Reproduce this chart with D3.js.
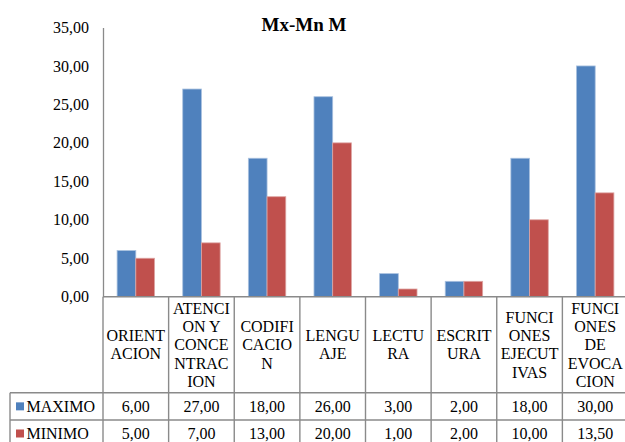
<!DOCTYPE html>
<html><head><meta charset="utf-8">
<script src="https://cdn.jsdelivr.net/npm/d3@7"></script>
<style>
@font-face{font-family:"ChartSerif";src:local("Liberation Serif"),local("LiberationSerif"),local("Tinos"),local("Times New Roman");font-weight:400;}
@font-face{font-family:"ChartSerif";src:local("Liberation Serif Bold"),local("LiberationSerif-Bold"),local("Tinos Bold"),local("Times New Roman Bold");font-weight:700;}
</style>
</head><body style="margin:0">
<svg id="c" width="625" height="442"></svg>
<script>
const categories = ["ORIENTACION","ATENCION Y CONCENTRACION","CODIFICACION","LENGUAJE","LECTURA","ESCRITURA","FUNCIONES EJECUTIVAS","FUNCIONES DE EVOCACION"];
const categoryLines = [["ORIENT","ACION"],["ATENCI","ON Y","CONCE","NTRAC","ION"],["CODIFI","CACIO","N"],["LENGU","AJE"],["LECTU","RA"],["ESCRIT","URA"],["FUNCI","ONES","EJECUT","IVAS"],["FUNCI","ONES","DE","EVOCA","CION"]];
const seriesNames = ["MAXIMO","MINIMO"];
const maximo = [6,27,18,26,3,2,18,30];
const minimo = [5,7,13,20,1,2,10,13.5];
const yTickValues = [0,5,10,15,20,25,30,35];
const title = "Mx-Mn M";
const colors = ["#4F81BD","#C0504D"];
const edge = ["#a9c1df","#dda4a2"];

const svg = d3.select("#c");
const FFL = '"Times New Roman", "Liberation Serif", "ChartSerif", "Tinos"';
const pLeft = 103, pRight = 628, pTop = 27.5, pBottom = 296.7;
const gridCol = "#8a8a8a";

const x0 = d3.scaleBand().domain(categories).range([pLeft, pRight]).padding(0);
const x1 = d3.scaleBand().domain(seriesNames).range([0, x0.bandwidth()]).paddingInner(0).paddingOuter(0.754);
const y = d3.scaleLinear().domain([0,35]).range([pBottom, pTop]);
const fmt = v => d3.format(".2f")(v).replace(".", ",");

function txt(sel){ return sel.style("font-family", FFL); }

// bars
const data = [maximo, minimo];
seriesNames.forEach((s,si)=>{
  svg.append("g").selectAll("rect").data(categories).join("rect")
    .attr("x",(c)=>x0(c)+x1(s))
    .attr("y",(c,i)=>y(data[si][i]))
    .attr("width",x1.bandwidth())
    .attr("height",(c,i)=>y(0)-y(data[si][i]))
    .attr("fill",colors[si])
    .attr("stroke",edge[si]).attr("stroke-width",0.8);
});

// y axis
const yAxis = d3.axisLeft(y).tickValues(yTickValues).tickSize(0).tickPadding(14).tickFormat(fmt);
const ga = svg.append("g").attr("transform",`translate(${pLeft},0)`).call(yAxis);
ga.attr("font-family", null).attr("font-size", null);
ga.select(".domain").attr("stroke",gridCol).attr("stroke-width",1.3);
txt(ga.selectAll("text")).attr("font-size",16).attr("fill","#000");

// table
const rowTop = pBottom, hdrBottom = 392.7, row1Bottom = 420, row2Bottom = 447;
const lines = svg.append("g").attr("stroke",gridCol).attr("stroke-width",1.4).attr("fill","none");
lines.append("line").attr("x1",pLeft).attr("x2",pRight).attr("y1",rowTop).attr("y2",rowTop);
[hdrBottom,row1Bottom,row2Bottom].forEach(yy=>{
  lines.append("line").attr("x1",10).attr("x2",pRight).attr("y1",yy).attr("y2",yy);
});
lines.append("line").attr("x1",10).attr("x2",10).attr("y1",hdrBottom).attr("y2",row2Bottom);
const bounds = categories.map(c=>x0(c)).concat([pRight]);
bounds.forEach(bx=>{
  lines.append("line").attr("x1",bx).attr("x2",bx).attr("y1",rowTop).attr("y2",row2Bottom);
});

// header labels
const lh = 18.3;
const hdrMid = (rowTop+hdrBottom)/2;
categories.forEach((c,i)=>{
  const ls = categoryLines[i];
  ls.forEach((l,j)=>{
    txt(svg.append("text")).attr("font-size",16)
     .attr("text-anchor","middle").attr("fill","#000")
     .attr("x",x0(c)+x0.bandwidth()/2)
     .attr("y",hdrMid + (j-(ls.length-1)/2)*lh + 5.5).text(l);
  });
});

// data rows
const rowMids = [(hdrBottom+row1Bottom)/2, (row1Bottom+row2Bottom)/2];
seriesNames.forEach((s,si)=>{
  svg.append("rect").attr("x",16).attr("y",rowMids[si]-4).attr("width",8).attr("height",8).attr("fill",colors[si]);
  txt(svg.append("text")).attr("x",26.5).attr("y",rowMids[si]+5.5).attr("font-size",16).text(s);
  txt(svg.append("g").selectAll("text").data(categories).join("text"))
    .attr("x",c=>x0(c)+x0.bandwidth()/2).attr("y",rowMids[si]+5.5)
    .attr("text-anchor","middle").attr("font-size",16)
    .text((c,i)=>fmt(data[si][i]));
});

// title
txt(svg.append("text")).attr("x",304).attr("y",31).attr("text-anchor","middle")
  .attr("font-weight","bold").attr("font-size",19).text(title);
</script>
</body></html>
